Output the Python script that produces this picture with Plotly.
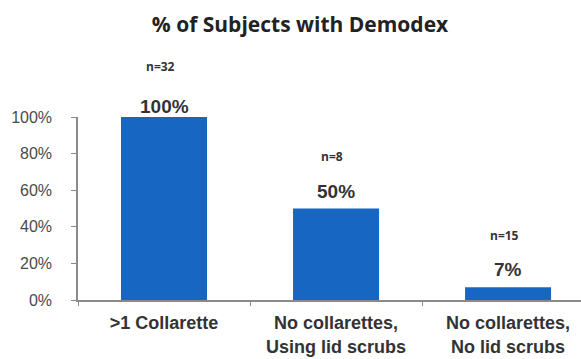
import plotly.graph_objects as go

categories = [">1 Collarette", "No collarettes,<br>Using lid scrubs", "No collarettes,<br>No lid scrubs"]
percent_values = [100, 50, 7]
value_labels = ["100%", "50%", "7%"]
n_labels = ["n=32", "n=8", "n=15"]
y_tick_values = [0, 20, 40, 60, 80, 100]
y_tick_labels = ["0%", "20%", "40%", "60%", "80%", "100%"]

BLUE = "#1767c2"

fig = go.Figure()
fig.add_trace(go.Bar(
    x=categories, y=percent_values, width=0.5,
    marker=dict(color=BLUE, line=dict(width=0)),
    showlegend=False, hoverinfo="skip",
))

value_shift = [11, 17, 18]
n_gap = [40, 35, 34]
for cat, v, lab, nl, s, g in zip(categories, percent_values, value_labels, n_labels, value_shift, n_gap):
    fig.add_annotation(x=cat, y=v, text="<b>%s</b>" % lab, showarrow=False,
                       yshift=s, font=dict(family="Liberation Sans, Arial", size=19, color="#333333"))
    fig.add_annotation(x=cat, y=v, text="<b>%s</b>" % nl, showarrow=False,
                       yshift=s + g, xshift=-4,
                       font=dict(family="Open Sans, Liberation Sans", size=12, color="#333333"))

fig.update_layout(
    width=581, height=359,
    margin=dict(l=78, r=0, t=117, b=59),
    paper_bgcolor="white", plot_bgcolor="white",
    title=dict(text="<b>% of Subjects with Demodex</b>", x=300/581, xref="container", xanchor="center",
               y=1 - 25/359, yref="container", yanchor="middle",
               font=dict(family="Open Sans, DejaVu Sans", size=21, color="#222222")),
    xaxis=dict(range=[-0.5, 2.424], showline=True, linecolor="#8a8a8a", linewidth=1.5,
               ticks="outside", tickson="boundaries", ticklen=4, tickcolor="#8a8a8a",
               showgrid=False, zeroline=False, ticklabelstandoff=6,
               tickfont=dict(family="Liberation Sans, Arial", size=18, color="#333333"),
               tickprefix="<b>", ticksuffix="</b>"),
    yaxis=dict(range=[0, 100], tickvals=y_tick_values, ticktext=y_tick_labels,
               showline=True, linecolor="#8a8a8a", linewidth=1.5,
               ticks="outside", ticklen=5, tickcolor="#8a8a8a",
               showgrid=False, zeroline=False, ticklabelstandoff=16,
               tickfont=dict(family="Liberation Sans, Arial", size=16, color="#4a4a4a")),
    bargap=0.5,
)

fig.write_html("out.html")
